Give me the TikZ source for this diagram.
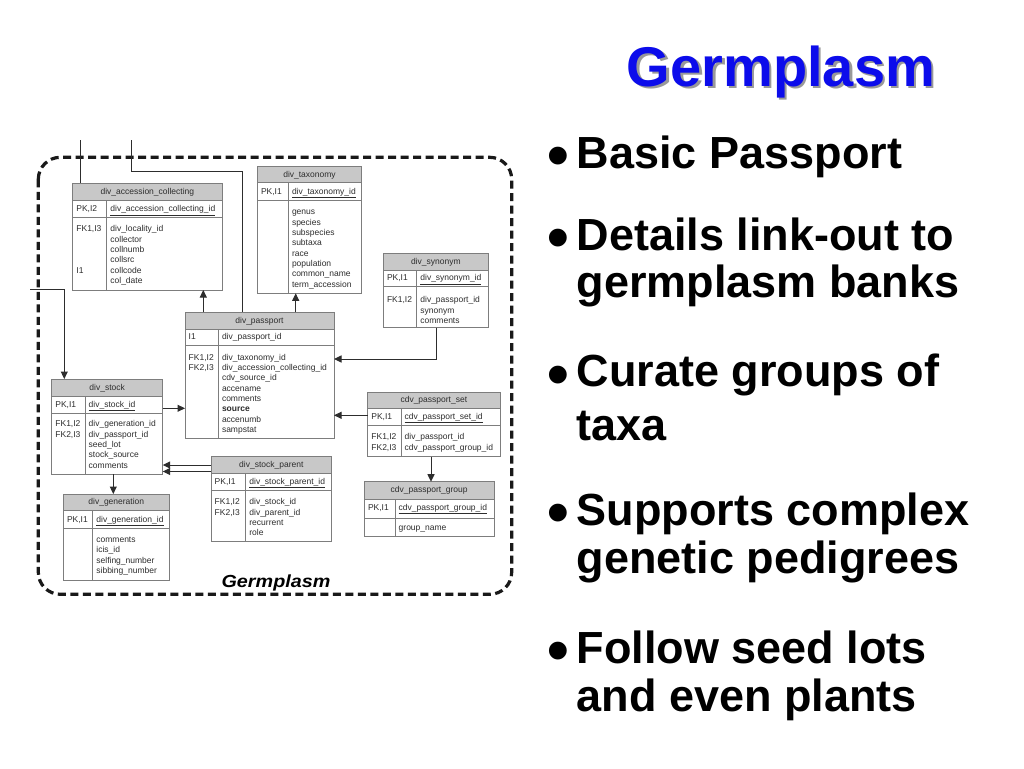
\documentclass[tikz,border=0pt]{standalone}
\usepackage{fontspec}
\setmainfont{Liberation Sans}
\usetikzlibrary{arrows.meta}
\definecolor{titleblue}{RGB}{12,12,235}
\definecolor{boxgray}{RGB}{125,125,125}
\definecolor{headgray}{RGB}{200,200,200}
\definecolor{inkgray}{RGB}{45,45,45}
\tikzset{
  tabbox/.style={fill=white, inner sep=0pt, outer sep=0pt},
  tabline/.style={draw=boxgray, line width=0.9pt},
  headtext/.style={anchor=mid, inner sep=0pt, font=\fontsize{8.5}{10}\selectfont, text=inkgray},
  rowtext/.style={anchor=mid west, inner sep=0pt, font=\fontsize{8.5}{10}\selectfont, text=inkgray},
  conn/.style={draw=inkgray, line width=1pt},
  arr/.style={conn, -{Triangle[length=7.5pt,width=7pt]}},
  frame/.style={draw=black!90, line width=3.2pt, dash pattern=on 8pt off 4.5pt, rounded corners=22pt},
  bigtext/.style={anchor=base west, inner sep=0pt, font=\fontsize{45}{50}\bfseries\selectfont},
  bulletdot/.style={anchor=center, inner sep=0pt, font=\fontsize{62}{64}\bfseries\selectfont},
  titletext/.style={anchor=base, inner sep=0pt, font=\fontsize{56}{60}\bfseries\selectfont}
}
\newcommand\ertab[9]{%
  \node[tabbox, minimum width={(#4-#2)*1pt}, minimum height={(#5-#3)*1pt}, anchor=north west] (#1) at (#2,#3) {};
  \fill[headgray] (#2,#3) rectangle (#4,#6);
  \draw[tabline] (#2,#6) -- (#4,#6) (#2,#7) -- (#4,#7) (#8,#6) -- (#8,#5);
  \draw[tabline] (#2,#3) rectangle (#4,#5);
  \node[headtext] (#1-title) at ({(#2+#4)/2},{(#3+#6)/2}) {#9};
}
\newcommand\errows[4]{%
  \foreach \t [count=\i from 0] in {#4} {\node[rowtext] (#1-r\i) at (#2,{#3+\i*10.3}) {\t};}
}
\begin{document}
\begin{tikzpicture}[x=1pt,y=-1pt]
\fill[white] (0,0) rectangle (1024,768);
\useasboundingbox (0,0) rectangle (1024,768);

% ---------- tables ----------
\ertab{acc}{72.7}{183.3}{222}{290}{200.7}{217.7}{106.7}{div\_accession\_collecting}
\node[rowtext] (acc-k1) at (76.2,209.3) {PK,I2};
\node[rowtext] (acc-k2) at (76.2,229.3) {FK1,I3};
\node[rowtext] (acc-k3) at (76.2,270.5) {I1};
\node[rowtext] (acc-pk) at (110.2,209.3) {\underline{div\_accession\_collecting\_id}};
\errows{acc}{110.2}{229.3}{div\_locality\_id, collector, collnumb, collsrc, collcode, col\_date}

\ertab{tax}{257.3}{166.7}{361.7}{293.3}{182.7}{200}{288.3}{div\_taxonomy}
\node[rowtext] (tax-k1) at (260.8,191.5) {PK,I1};
\node[rowtext] (tax-pk) at (291.8,191.5) {\underline{div\_taxonomy\_id}};
\errows{tax}{291.8}{212.3}{genus, species, subspecies, subtaxa, race, population, common\_name, term\_accession}

\ertab{syn}{383.3}{253.3}{488.3}{327.7}{270}{286.7}{416.7}{div\_synonym}
\node[rowtext] (syn-k1) at (386.8,278.3) {PK,I1};
\node[rowtext] (syn-k2) at (386.8,300.3) {FK1,I2};
\node[rowtext] (syn-pk) at (420.2,278.3) {\underline{div\_synonym\_id}};
\errows{syn}{420.2}{300.3}{div\_passport\_id, synonym, comments}

\ertab{pass}{185}{312.3}{334}{438.3}{329.3}{345.7}{218.3}{div\_passport}
\node[rowtext] (pass-k1) at (188.5,337.3) {I1};
\node[rowtext] (pass-k2) at (188.5,357.7) {FK1,I2};
\node[rowtext] (pass-k3) at (188.5,368) {FK2,I3};
\node[rowtext] (pass-pk) at (221.8,337.3) {div\_passport\_id};
\errows{pass}{221.8}{357.7}{div\_taxonomy\_id, div\_accession\_collecting\_id, cdv\_source\_id, accename, comments, \textbf{source}, accenumb, sampstat}

\ertab{stock}{51.7}{379}{162.7}{474}{396}{413.3}{85}{div\_stock}
\node[rowtext] (stock-k1) at (55.2,404.5) {PK,I1};
\node[rowtext] (stock-k2) at (55.2,424.3) {FK1,I2};
\node[rowtext] (stock-k3) at (55.2,434.6) {FK2,I3};
\node[rowtext] (stock-pk) at (88.5,404.5) {\underline{div\_stock\_id}};
\errows{stock}{88.5}{424.3}{div\_generation\_id, div\_passport\_id, seed\_lot, stock\_source, comments}

\ertab{gen}{63.3}{494}{169.3}{580}{510.7}{528.3}{92.7}{div\_generation}
\node[rowtext] (gen-k1) at (66.8,519.8) {PK,I1};
\node[rowtext] (gen-pk) at (96.2,519.8) {\underline{div\_generation\_id}};
\errows{gen}{96.2}{540}{comments, icis\_id, selfing\_number, sibbing\_number}

\ertab{sp}{211}{456.7}{331.7}{541.7}{473.3}{490}{245.7}{div\_stock\_parent}
\node[rowtext] (sp-k1) at (214.5,481.7) {PK,I1};
\node[rowtext] (sp-k2) at (214.5,502.3) {FK1,I2};
\node[rowtext] (sp-k3) at (214.5,512.6) {FK2,I3};
\node[rowtext] (sp-pk) at (249.2,481.7) {\underline{div\_stock\_parent\_id}};
\errows{sp}{249.2}{502.3}{div\_stock\_id, div\_parent\_id, recurrent, role}

\ertab{ps}{367.7}{392.3}{500}{456.7}{408.3}{425.7}{401}{cdv\_passport\_set}
\node[rowtext] (ps-k1) at (371.2,416.7) {PK,I1};
\node[rowtext] (ps-k2) at (371.2,437.3) {FK1,I2};
\node[rowtext] (ps-k3) at (371.2,447.6) {FK2,I3};
\node[rowtext] (ps-pk) at (404.5,416.7) {\underline{cdv\_passport\_set\_id}};
\errows{ps}{404.5}{437.3}{div\_passport\_id, cdv\_passport\_group\_id}

\ertab{pg}{364.3}{481.7}{494}{536.7}{499}{518.3}{395}{cdv\_passport\_group}
\node[rowtext] (pg-k1) at (367.8,507.7) {PK,I1};
\node[rowtext] (pg-pk) at (398.5,507.7) {\underline{cdv\_passport\_group\_id}};
\errows{pg}{398.5}{527.7}{group\_name}

% ---------- dashed frame ----------
\draw[frame] (38.3,157.3) rectangle (511.7,594.3);
\node[anchor=base, inner sep=0pt, font=\fontsize{17.5}{20}\bfseries\itshape\selectfont] (framelabel) at (276,587) {\scalebox{1.13}[1]{Germplasm}};

% ---------- connectors ----------
\coordinate (topA) at (80.7,140);
\coordinate (topB) at (131,140);
\coordinate (bendB) at (242.3,171);
\coordinate (leftA) at (30,289.3);
\draw[conn] (topA) -- (topA |- acc.north);
\draw[conn] (topB) |- (bendB) -- (bendB |- pass.north);
\draw[arr] (pass.north -| 203.3,0) -- (acc.south -| 203.3,0);
\draw[arr] (pass.north -| 295.7,0) -- (tax.south -| 295.7,0);
\draw[arr] (leftA) -| (stock.north -| 64.3,0);
\draw[arr] (stock.east |- 0,408.3) -- (pass.west |- 0,408.3);
\draw[arr] (syn.south -| 436,0) |- (pass.east |- 0,359);
\draw[arr] (ps.west |- 0,415.3) -- (pass.east |- 0,415.3);
\draw[arr] (ps.south -| 431,0) -- (pg.north -| 431,0);
\draw[arr] (sp.west |- 0,465) -- (stock.east |- 0,465);
\draw[arr] (sp.west |- 0,471.5) -- (stock.east |- 0,471.5);
\draw[arr] (stock.south -| 113.3,0) -- (gen.north -| 113.3,0);

% ---------- title ----------
\node[titletext, text=black!40] (titleshadow) at (783.5,88.5) {Germplasm};
\node[titletext, text=titleblue] (title) at (781,86) {Germplasm};

% ---------- bullets ----------
\node[bulletdot] (b1) at (558.5,162) {•};
\node[bigtext] (t1) at (576.7,168.3) {Basic Passport};
\node[bulletdot] (b2) at (558.5,243.8) {•};
\node[bigtext] (t2a) at (576.7,250) {Details link-out to};
\node[bigtext] (t2b) at (576.7,297) {germplasm banks};
\node[bulletdot] (b3) at (558.5,380.5) {•};
\node[bigtext] (t3a) at (576.7,386.7) {Curate groups of};
\node[bigtext] (t3b) at (576.7,440.5) {taxa};
\node[bulletdot] (b4) at (558.5,518.8) {•};
\node[bigtext] (t4a) at (576.7,525) {Supports complex};
\node[bigtext] (t4b) at (576.7,573.3) {genetic pedigrees};
\node[bulletdot] (b5) at (558.5,657.1) {•};
\node[bigtext] (t5a) at (576.7,663.3) {Follow seed lots};
\node[bigtext] (t5b) at (576.7,711.7) {and even plants};
\end{tikzpicture}
\end{document}
